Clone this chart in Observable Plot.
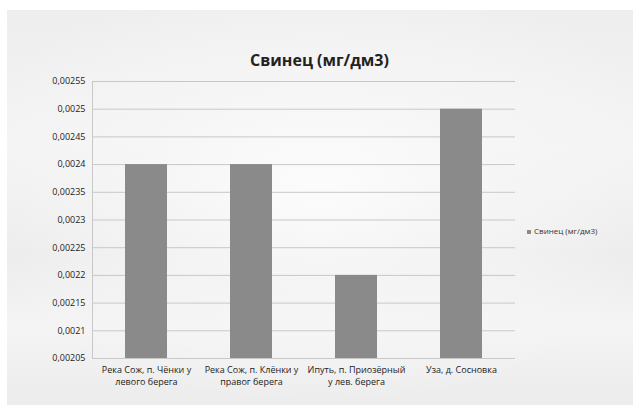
<!DOCTYPE html>
<html>
<head>
<meta charset="utf-8">
<script src="https://cdn.jsdelivr.net/npm/d3@7"></script>
<script src="https://cdn.jsdelivr.net/npm/@observablehq/plot@0.6"></script>
<style>
  html, body { margin: 0; padding: 0; background: #ffffff; }
  #wrap { position: relative; width: 633px; height: 415px; overflow: hidden; font-family: "Open Sans", sans-serif; }
  #bg { position: absolute; left: 7px; top: 10px; width: 626px; height: 395px;
        background:
          radial-gradient(ellipse 60% 55% at 50% 45%, rgba(252,252,252,0.95) 0%, rgba(248,248,248,0.6) 50%, rgba(236,236,236,0) 100%),
          linear-gradient(180deg, #eeeeee 0%, #f3f3f3 35%, #ebebeb 62%, #f4f4f4 80%, #ececec 100%); }
  #chart { position: absolute; left: 0; top: 0; }
  #title { position: absolute; left: 0; width: 633px; top: 49px; text-align: center; padding-left: 6px; box-sizing: border-box;
           font-weight: bold; font-size: 16px; color: #222; }
  #legend { position: absolute; left: 527px; top: 225px; font-size: 8px; color: #333; white-space: nowrap; }
  #legend span.sw { display: inline-block; width: 4px; height: 4px; background: #8a8a8a; margin-right: 3px; vertical-align: middle; }
</style>
</head>
<body>
<div id="wrap">
  <div id="bg"></div>
  <div id="chart"></div>
  <div id="title">Свинец (мг/дм3)</div>
  <div id="legend"><span class="sw"></span>Свинец (мг/дм3)</div>
</div>
<script>
const categories = [
  "Река Сож, п. Чёнки у\nлевого берега",
  "Река Сож, п. Клёнки у\nправог берега",
  "Ипуть, п. Приозёрный\nу лев. берега",
  "Уза, д. Сосновка"
];
const values = [0.0024, 0.0024, 0.0022, 0.0025];
const yTicks = [0.00205, 0.0021, 0.00215, 0.0022, 0.00225, 0.0023, 0.00235, 0.0024, 0.00245, 0.0025, 0.00255];
const yMin = 0.00205, yMax = 0.00255;

const data = categories.map((c, i) => ({category: c, value: values[i]}));
const fmt = d => String(+d.toFixed(5)).replace(".", ",");

const chart = Plot.plot({
  width: 633,
  height: 415,
  marginLeft: 92,
  marginRight: 118,
  marginTop: 81,
  marginBottom: 57,
  style: { background: "transparent", fontFamily: "Open Sans, sans-serif", fontSize: "9px", color: "#222" },
  x: { domain: categories, paddingInner: 0.6, paddingOuter: 0.3, label: null },
  y: { domain: [yMin, yMax], label: null },
  marks: [
    Plot.ruleY(yTicks, { stroke: "#c8c8c8", strokeWidth: 1 }),
    Plot.frame({ anchor: "left", stroke: "#c8c8c8" }),
    Plot.barY(data, { x: "category", y1: () => yMin, y2: "value", fill: "#8a8a8a" }),
    Plot.axisY({ ticks: yTicks, tickFormat: fmt, tickSize: 0, tickPadding: 7, fontSize: 9, fill: "#222" }),
    Plot.axisX({ tickSize: 0, tickPadding: 6, lineHeight: 1.3, fontSize: 9, fill: "#222" })
  ]
});
document.getElementById("chart").appendChild(chart);
</script>
</body>
</html>
